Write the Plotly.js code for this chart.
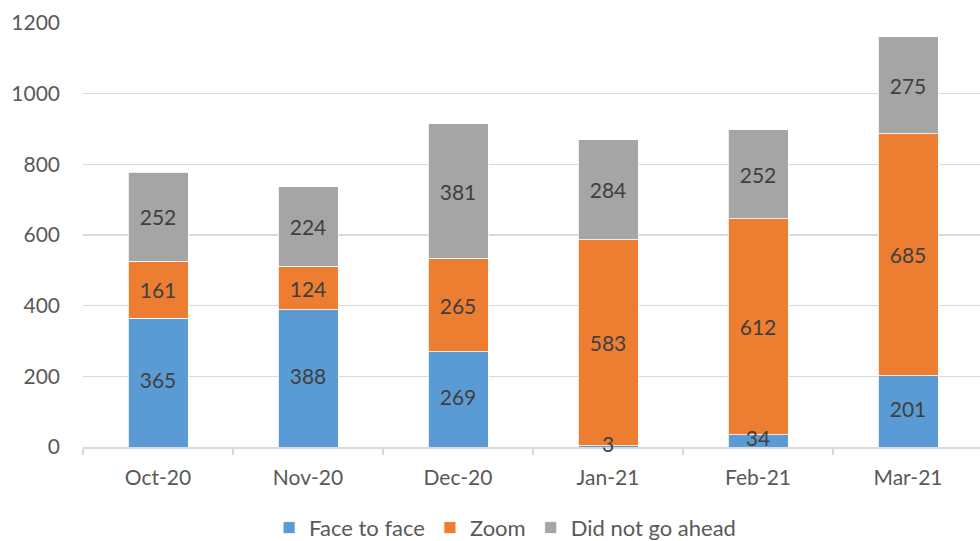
<!DOCTYPE html>
<html>
<head>
<meta charset="utf-8">
<script src="https://cdn.plot.ly/plotly-3.0.1.min.js"></script>
<style>
html,body{margin:0;padding:0;overflow:hidden;background:#fff;width:980px;height:541px;}
#chart{width:983px;height:541px;}
</style>
</head>
<body>
<div id="chart"></div>
<script>
var months = ["Oct-20", "Nov-20", "Dec-20", "Jan-21", "Feb-21", "Mar-21"];
var faceToFace = [365, 388, 269, 3, 34, 201];
var zoom = [161, 124, 265, 583, 612, 685];
var didNotGoAhead = [252, 224, 381, 284, 252, 275];
var yTicks = [0, 200, 400, 600, 800, 1000, 1200];

var labelFont = {family: "Lato, sans-serif", size: 21, color: "#404040"};

function series(name, vals, color, withText) {
  var t = {
    type: "bar", name: name, x: months, y: vals,
    marker: {color: color, line: {color: "#ffffff", width: 0.8}},
    hoverinfo: "none"
  };
  if (withText) {
    t.text = vals.map(String);
    t.textposition = "inside";
    t.insidetextanchor = "middle";
    t.textangle = 0;
    t.constraintext = "none";
    t.textfont = labelFont;
  } else {
    t.textposition = "none";
  }
  return t;
}

var data = [
  series("Face to face", faceToFace, "#5B9BD5", false),
  series("Zoom", zoom, "#ED7D31", true),
  series("Did not go ahead", didNotGoAhead, "#A5A5A5", true),
  {
    type: "scatter", mode: "text", x: months,
    y: faceToFace.map(function (v) { return v / 2; }),
    text: faceToFace.map(String), textposition: "middle center",
    textfont: labelFont, cliponaxis: false, showlegend: false, hoverinfo: "none"
  }
];

var layout = {
  width: 983, height: 541,
  margin: {l: 83, r: 0, t: 23, b: 94, autoexpand: false},
  barmode: "stack", bargap: 0.6,
  paper_bgcolor: "#ffffff", plot_bgcolor: "#ffffff",
  font: {family: "Lato, sans-serif", size: 21, color: "#595959"},
  showlegend: true,
  legend: {orientation: "h", x: 0.469, xanchor: "center", xref: "paper",
           y: -0.141, yanchor: "top", yref: "paper",
           font: {family: "Lato, sans-serif", size: 22, color: "#595959"}, traceorder: "normal"},
  xaxis: {type: "category", showgrid: false, showline: true, linecolor: "#d9d9d9", linewidth: 1.5,
          ticks: "outside", tickson: "boundaries", ticklen: 6, tickcolor: "#d9d9d9", tickwidth: 1.5,
          ticklabelstandoff: 11, zeroline: false, layer: "below traces"},
  yaxis: {range: [0, 1200], tickvals: yTicks, ticktext: yTicks.map(String), showgrid: true,
          gridcolor: "#d9d9d9", gridwidth: 1.5, zeroline: false, showline: false, ticks: "",
          ticklabelstandoff: 22}
};

Plotly.newPlot("chart", data, layout, {displayModeBar: false, staticPlot: true});
</script>
</body>
</html>
